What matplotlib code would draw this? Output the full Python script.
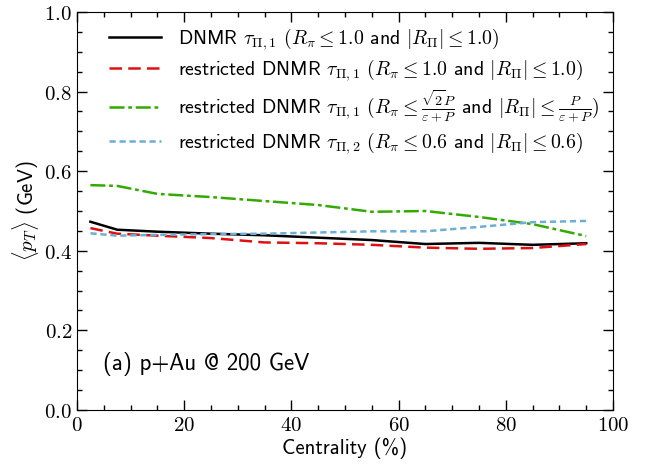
# mean pT vs centrality, p+Au @ 200 GeV

import numpy as np
import matplotlib
matplotlib.use("Agg")
import matplotlib.pyplot as plt
from matplotlib.ticker import MultipleLocator, FormatStrFormatter

plt.rcParams['mathtext.fontset'] = 'cm'

# centrality bin centres (%)
cent = [2.5, 7.5, 15, 25, 35, 45, 55, 65, 75, 85, 95]

# <pT> (GeV)
pt_dnmr = [0.473, 0.453, 0.448, 0.443, 0.439, 0.433, 0.427, 0.417, 0.420, 0.415, 0.419]
pt_restr = [0.457, 0.443, 0.438, 0.432, 0.421, 0.419, 0.415, 0.408, 0.405, 0.407, 0.417]
pt_restr_p = [0.565, 0.563, 0.543, 0.535, 0.525, 0.515, 0.498, 0.500, 0.485, 0.467, 0.437]
pt_restr2 = [0.444, 0.438, 0.440, 0.442, 0.443, 0.446, 0.449, 0.449, 0.460, 0.472, 0.475]

labels = [
    r"DNMR $\tau_{\Pi,1}$ $(R_\pi \leq 1.0$ and $|R_\Pi| \leq 1.0)$",
    r"restricted DNMR $\tau_{\Pi,1}$ $(R_\pi \leq 1.0$ and $|R_\Pi| \leq 1.0)$",
    r"restricted DNMR $\tau_{\Pi,1}$ $(R_\pi \leq \frac{\sqrt{2}P}{\varepsilon+P}$ and $|R_\Pi| \leq \frac{P}{\varepsilon+P})$",
    r"restricted DNMR $\tau_{\Pi,2}$ $(R_\pi \leq 0.6$ and $|R_\Pi| \leq 0.6)$",
]

fig = plt.figure(figsize=(6.47, 4.65), dpi=100)
ax = fig.add_axes([77/647, 55/465, 536/647, 398/465])

ax.plot(cent, pt_dnmr, color='black', lw=1.8, label=labels[0])
ax.plot(cent, pt_restr, color='#dd1111', lw=1.8, ls=(0, (5, 2.5)), label=labels[1])
ax.plot(cent, pt_restr_p, color='#33aa00', lw=1.8, ls=(0, (6, 1.5, 1.5, 1.5)), label=labels[2])
ax.plot(cent, pt_restr2, color='#6baed6', lw=1.8, ls=(0, (2.5, 1.5)), label=labels[3])

ax.set_xlim(0, 100)
ax.set_ylim(0, 1.0)
ax.xaxis.set_major_locator(MultipleLocator(20))
ax.xaxis.set_minor_locator(MultipleLocator(5))
ax.yaxis.set_major_locator(MultipleLocator(0.2))
ax.yaxis.set_minor_locator(MultipleLocator(0.05))
ax.xaxis.set_major_formatter(FormatStrFormatter(r'$%d$'))
ax.yaxis.set_major_formatter(FormatStrFormatter(r'$%.1f$'))
ax.tick_params(which='both', direction='in', top=True, right=True, width=1)
ax.tick_params(which='major', length=7, labelsize=15)
ax.tick_params(which='minor', length=3.5)

ax.set_xlabel("Centrality (%)", fontfamily='cmss10', fontsize=15, labelpad=2)
ax.set_ylabel(r"$\langle p_T\rangle$ (GeV)", fontfamily='cmss10', fontsize=15, labelpad=2)

ax.text(0.048, 0.1, "(a) p+Au @ 200 GeV", transform=ax.transAxes,
        fontfamily='cmss10', fontsize=16.5)

leg = ax.legend(loc='upper left', bbox_to_anchor=(0.027, 1.01), frameon=False,
                prop={'family': 'cmss10', 'size': 14.3}, handlelength=2.6,
                labelspacing=0.28, handletextpad=0.85)

fig.savefig("out.png", dpi=100)
